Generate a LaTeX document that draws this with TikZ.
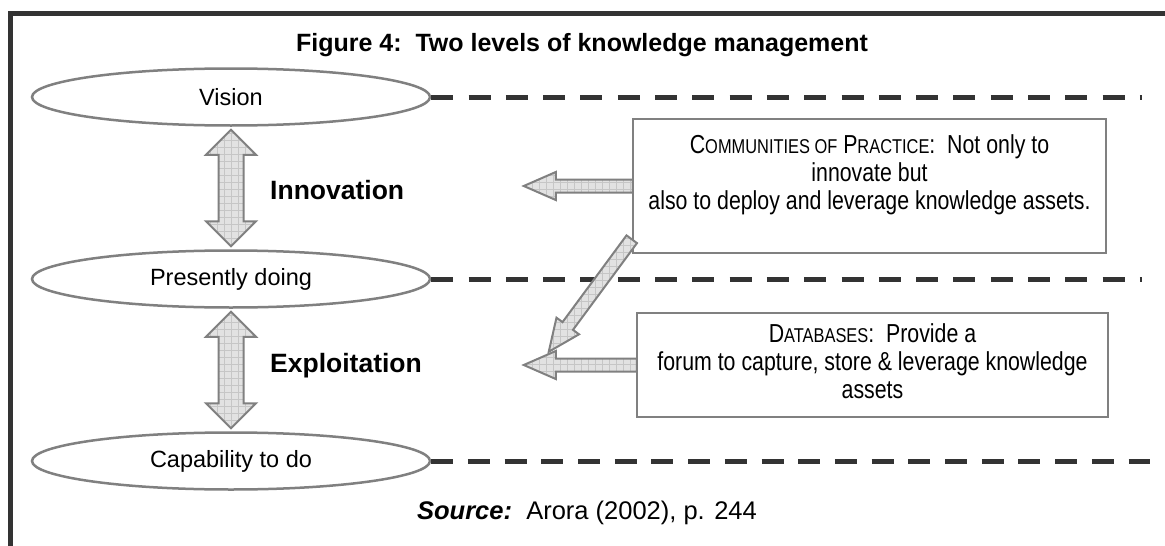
\documentclass[tikz,border=0pt]{standalone}
\usepackage{fontspec}
\setmainfont{Liberation Sans}
\newfontfamily\narrowfont[FakeStretch=0.82]{Liberation Sans}
\usetikzlibrary{calc,shapes.geometric}
\definecolor{bordergray}{HTML}{333333}
\definecolor{shapegray}{HTML}{808080}
\definecolor{arrowfill}{HTML}{E2E2E2}
\definecolor{gridgray}{HTML}{C6C6C6}
\newcommand\smcap[1]{{\fontsize{20}{20}\selectfont #1}}
\tikzset{
  ell/.style={draw=shapegray, line width=2.5pt, ellipse, fill=white,
    minimum width=398pt, minimum height=57pt, inner sep=0pt,
    font=\fontsize{23.5}{27}\selectfont},
  txtbox/.style={draw=shapegray, line width=2.5pt, align=center, inner sep=0pt,
    font=\narrowfont\fontsize{26}{28}\selectfont},
  dashl/.style={draw=bordergray, line width=5pt, dash pattern=on 22pt off 15.3pt},
  blockarr/.style={draw=shapegray, line width=2pt, fill=arrowfill, line join=miter,
    path picture={\draw[gridgray, line width=0.5pt, step=7pt]
      (path picture bounding box.south west) grid (path picture bounding box.north east);}},
  boldlbl/.style={font=\bfseries\fontsize{26.5}{30}\selectfont, anchor=west, inner sep=0pt},
}
% single block arrow from #1 to #2
\newcommand\blockarrow[2]{%
  \coordinate (ba-h) at ($(#2)!32pt!(#1)$);
  \draw[blockarr] ($(#1)!6.5pt!90:(#2)$) -- ($(ba-h)!6.5pt!-90:(#1)$) -- ($(ba-h)!14pt!-90:(#1)$)
    -- (#2) -- ($(ba-h)!14pt!90:(#1)$) -- ($(ba-h)!6.5pt!90:(#1)$) -- ($(#1)!6.5pt!-90:(#2)$) -- cycle;}
% double block arrow between #1 and #2
\newcommand\doublearrow[2]{%
  \coordinate (da-a) at ($(#1)!25pt!(#2)$);
  \coordinate (da-b) at ($(#2)!25pt!(#1)$);
  \draw[blockarr] (#1) -- ($(da-a)!25pt!90:(#2)$) -- ($(da-a)!12.5pt!90:(#2)$)
    -- ($(da-b)!12.5pt!-90:(#1)$) -- ($(da-b)!25pt!-90:(#1)$) -- (#2)
    -- ($(da-b)!25pt!90:(#1)$) -- ($(da-b)!12.5pt!90:(#1)$)
    -- ($(da-a)!12.5pt!-90:(#2)$) -- ($(da-a)!25pt!-90:(#2)$) -- cycle;}
\begin{document}
\begin{tikzpicture}[x=1pt,y=-1pt]
\useasboundingbox (0,0) rectangle (1165,546);
\fill[white] (0,0) rectangle (1165,546);
\draw[bordergray, line width=5pt, line join=miter] (10,550) -- (10,13.5) -- (1170,13.5);

\node[font=\bfseries\fontsize{25}{30}\selectfont] (title) at (582,45) {Figure 4:\ \ Two levels of knowledge management};

% ellipses
\node[ell] (vision) at (231,97) {Vision};
\node[ell] (pres) at (231,279) {Presently doing};
\node[ell] (cap) at (231,461) {Capability to do};

% dashed level lines
\draw[dashl] (vision.east) -- ($(vision.east)+(711,0)$);
\draw[dashl] (pres.east) -- ($(pres.east)+(711,0)$);
\draw[dashl, dash pattern=on 22pt off 14.7pt] (cap.east) -- ($(cap.east)+(719,0)$);

% double arrows
\coordinate (i1) at ($(vision.south)+(0,3)$);
\coordinate (i2) at ($(pres.north)+(0,-3)$);
\doublearrow{i1}{i2}
\coordinate (e1) at ($(pres.south)+(0,3)$);
\coordinate (e2) at ($(cap.north)+(0,-3)$);
\doublearrow{e1}{e2}

\node[boldlbl] (innov) at (270,190) {Innovation};
\node[boldlbl] (expl) at (270,366) {Exploitation};

% boxes
\node[txtbox, minimum width=473pt, minimum height=134pt] (comm) at (869.5,186)
  {C\smcap{OMMUNITIES OF} P\smcap{RACTICE}:\ \ Not only to\\innovate but\\also to deploy and leverage knowledge assets.\\\mbox{}};
\node[txtbox, minimum width=471pt, minimum height=104pt] (db) at (872.5,365)
  {D\smcap{ATABASES}:\ \ Provide a\\forum to capture, store \& leverage knowledge\\assets\\[-20pt]\mbox{}};

% block arrows
\coordinate (c1) at ($(comm.west)+(1,0)$);
\coordinate (c1t) at ($(comm.west)+(-108,0)$);
\blockarrow{c1}{c1t}
\coordinate (d0) at ($(comm.south west)+(0,-15)$);
\coordinate (d1) at ($(db.north west)+(-87,40)$);
\blockarrow{d0}{d1}
\coordinate (b1) at ($(db.west)+(1,0)$);
\coordinate (b1t) at ($(db.west)+(-112,0)$);
\blockarrow{b1}{b1t}

\node[font=\fontsize{25.5}{30}\selectfont] (src) at (587,513) {\textbf{\textit{Source:}}\ \ Arora (2002), p. 244};
\end{tikzpicture}
\end{document}
